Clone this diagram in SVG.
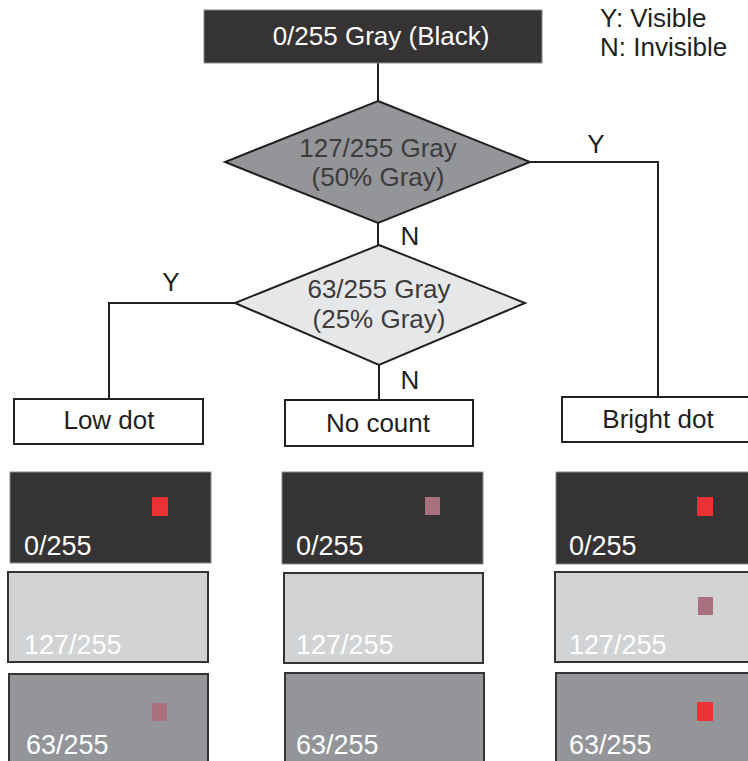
<svg xmlns="http://www.w3.org/2000/svg" width="748" height="761" viewBox="0 0 748 761">
<style>
text{font-family:"Liberation Sans",Arial,sans-serif;}
.lbl{font-size:26px;fill:#231f20;text-anchor:middle;}
.dtx{font-size:26px;fill:#3d3b3c;text-anchor:middle;}
.box{fill:#fff;stroke:#231f20;stroke-width:2;}
.ln{fill:none;stroke:#231f20;stroke-width:2;}
.pt{font-size:27px;fill:#fff;}
.dark{fill:#353334;stroke:#8a8a8a;stroke-width:1;}
.light{fill:#d1d3d4;stroke:#333;stroke-width:2;}
.mid{fill:#939598;stroke:#333;stroke-width:2;}
.red{fill:#ed3237;}
.pink{fill:#a97080;}
</style>
<g id="connectors">
<path class="ln" d="M378 63V101"/>
<path class="ln" d="M530 162H658V397"/>
<path class="ln" d="M378 223V245"/>
<path class="ln" d="M235 303H109V399"/>
<path class="ln" d="M379 365V400"/>
<text class="lbl" x="596" y="153">Y</text>
<text class="lbl" x="410" y="245">N</text>
<text class="lbl" x="171" y="291">Y</text>
<text class="lbl" x="410" y="389">N</text>
</g>
<g id="start">
<rect x="204" y="10" width="338" height="53" fill="#353334" stroke="#8a8a8a" stroke-width="1"/>
<text x="381" y="45" font-size="26" fill="#fff" text-anchor="middle">0/255 Gray (Black)</text>
</g>
<g id="legend">
<text x="600" y="27" font-size="26" fill="#231f20">Y: Visible</text>
<text x="600" y="56" font-size="26" fill="#231f20">N: Invisible</text>
</g>
<g id="decision1">
<polygon points="378,101 530,162 378,223 225,162" fill="#939598" stroke="#231f20" stroke-width="2"/>
<text class="dtx" x="378" y="157">127/255 Gray</text>
<text class="dtx" x="378" y="186">(50% Gray)</text>
</g>
<g id="decision2">
<polygon points="379,245 525,303 379,365 235,303" fill="#e6e7e8" stroke="#231f20" stroke-width="2"/>
<text class="dtx" x="379" y="298">63/255 Gray</text>
<text class="dtx" x="379" y="328">(25% Gray)</text>
</g>
<g id="lowdot">
<rect class="box" x="14" y="399" width="189" height="45"/>
<text class="lbl" x="109" y="429">Low dot</text>
</g>
<g id="nocount">
<rect class="box" x="285" y="400" width="188" height="46"/>
<text class="lbl" x="378" y="432">No count</text>
</g>
<g id="brightdot">
<rect class="box" x="562" y="397" width="190" height="45"/>
<text class="lbl" x="658" y="428">Bright dot</text>
</g>
<g id="panels-low">
<rect class="dark" x="10" y="472" width="201" height="91"/>
<rect class="red" x="152" y="497" width="16" height="19"/>
<text class="pt" x="24" y="555">0/255</text>
<rect class="light" x="8" y="572" width="200" height="90"/>
<text class="pt" x="24" y="654">127/255</text>
<rect class="mid" x="9" y="674" width="199" height="95"/>
<rect class="pink" x="152" y="703" width="15" height="18"/>
<text class="pt" x="26" y="754">63/255</text>
</g>
<g id="panels-none">
<rect class="dark" x="282" y="472" width="201" height="92"/>
<rect class="pink" x="425" y="497" width="15" height="18"/>
<text class="pt" x="296" y="555">0/255</text>
<rect class="light" x="284" y="573" width="199" height="90"/>
<text class="pt" x="296" y="654">127/255</text>
<rect class="mid" x="285" y="673" width="199" height="96"/>
<text class="pt" x="296" y="754">63/255</text>
</g>
<g id="panels-bright">
<rect class="dark" x="556" y="472" width="200" height="92"/>
<rect class="red" x="697" y="497" width="16" height="19"/>
<text class="pt" x="569" y="555">0/255</text>
<rect class="light" x="555" y="572" width="200" height="90"/>
<rect class="pink" x="698" y="597" width="15" height="18"/>
<text class="pt" x="569" y="654">127/255</text>
<rect class="mid" x="556" y="673" width="200" height="96"/>
<rect class="red" x="697" y="702" width="16" height="19"/>
<text class="pt" x="569" y="754">63/255</text>
</g>
</svg>
